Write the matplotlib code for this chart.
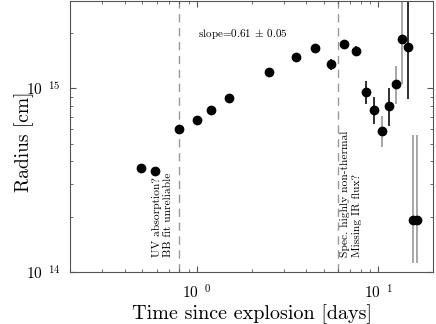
import numpy as np
import matplotlib
matplotlib.use("Agg")
import matplotlib.pyplot as plt
from matplotlib.ticker import LogLocator, NullFormatter

plt.rcParams['font.family'] = ['cmr10', 'DejaVu Serif']
plt.rcParams['mathtext.fontset'] = 'cm'
plt.rcParams['axes.unicode_minus'] = False

# days since explosion, radius [cm], lower / upper bounds
t_black = [0.49, 0.59, 0.8, 1.0, 1.2, 1.5, 2.5, 3.5, 4.5, 5.5, 6.5, 7.5, 8.5, 9.5, 11.5, 14.5]
r_black = [3.7e14, 3.54e14, 6.0e14, 6.73e14, 7.66e14, 8.9e14, 1.22e15, 1.49e15, 1.66e15,
           1.35e15, 1.74e15, 1.60e15, 9.56e14, 7.63e14, 7.98e14, 1.67e15]
lo_black = [3.65e14, 3.40e14, 5.95e14, 6.68e14, 7.60e14, 8.85e14, 1.20e15, 1.43e15, 1.58e15,
            1.26e15, 1.66e15, 1.51e15, 8.26e14, 6.43e14, 6.27e14, 8.79e14]
hi_black = [3.75e14, 3.62e14, 6.05e14, 6.78e14, 7.72e14, 8.95e14, 1.24e15, 1.55e15, 1.74e15,
            1.44e15, 1.82e15, 1.69e15, 1.10e15, 8.94e14, 1.01e15, 5.0e15]

t_gray = [10.5, 12.5, 13.5, 15.5, 16.4]
r_gray = [5.86e14, 1.05e15, 1.85e15, 1.93e14, 1.93e14]
lo_gray = [4.78e14, 8.26e14, 1.06e15, 1.12e14, 1.12e14]
hi_gray = [7.11e14, 1.33e15, 5.0e15, 5.6e14, 5.6e14]

t_cuts = [0.8, 6.0]

fig = plt.figure(figsize=(4.36, 3.24), dpi=100)
ax = fig.add_axes([0.161, 0.16, 0.832, 0.838])

for t, r, lo, hi, c in [(t_gray, r_gray, lo_gray, hi_gray, '#a0a0a0'),
                        (t_black, r_black, lo_black, hi_black, '#202020')]:
    t = np.array(t); r = np.array(r)
    yerr = [r - np.array(lo), np.array(hi) - r]
    ax.errorbar(t, r, yerr=yerr, fmt='none', ecolor=c, elinewidth=1.3, capsize=0, zorder=2)

ax.plot(t_black, r_black, 'o', color='black', ms=6, zorder=3)
ax.plot(t_gray, r_gray, 'o', color='black', ms=6, zorder=3)

for tc in t_cuts:
    ax.axvline(tc, color='#999999', ls=(0, (6, 4)), lw=1.0, zorder=1)

ax.set_xscale('log')
ax.set_yscale('log')
ax.set_xlim(0.2, 20)
ax.set_ylim(1e14, 3e15)

ax.set_xticks([1, 10])
ax.set_xticklabels([r'$10^{\ \ 0}$', r'$10^{\ \ 1}$'], fontsize=11)
ax.xaxis.set_minor_locator(LogLocator(base=10, subs=np.arange(2, 10)))
ax.xaxis.set_minor_formatter(NullFormatter())
ax.set_yticks([1e14, 1e15])
ax.set_yticklabels([r'$10^{\ \ 14}$', r'$10^{\ \ 15}$'], fontsize=11)
ax.yaxis.set_minor_locator(LogLocator(base=10, subs=np.arange(2, 10)))
ax.yaxis.set_minor_formatter(NullFormatter())
ax.tick_params(which='both', direction='in', top=True, right=True, color='#555555')
ax.tick_params(which='major', length=4)
ax.tick_params(axis='x', which='major', pad=8)
ax.tick_params(axis='y', which='major', pad=7)
ax.tick_params(which='minor', length=2.5)
for s in ax.spines.values():
    s.set_color('#555555')
    s.set_linewidth(0.8)

ax.set_xlabel('Time since explosion [days]', fontsize=14.5, labelpad=2)
ax.set_ylabel('Radius [cm]', fontsize=14)
ax.yaxis.set_label_coords(-0.1, 0.48)

ax.text(0.353, 0.879, r'slope=0.61 $\pm$ 0.05', transform=ax.transAxes, fontsize=8,
        va='center')
ax.text(0.255, 0.055, 'UV absorption?\nBB fit unreliable', transform=ax.transAxes,
        rotation=90, fontsize=8.3, ha='center', va='bottom', multialignment='left')
ax.text(0.774, 0.055, 'Spec. highly non-thermal\nMissing IR flux?', transform=ax.transAxes,
        rotation=90, fontsize=8.3, ha='center', va='bottom', multialignment='left')

fig.savefig('out.png', dpi=100)
